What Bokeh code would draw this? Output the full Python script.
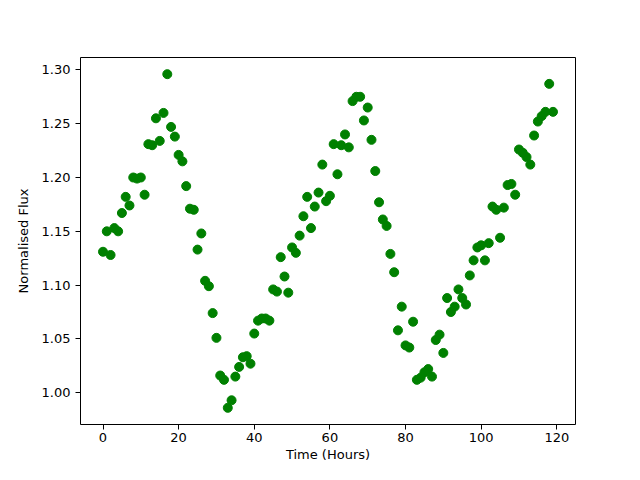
from bokeh.plotting import figure
from bokeh.models import FixedTicker, NumeralTickFormatter, Range1d, ColumnDataSource
from bokeh.embed import file_html
from bokeh.resources import INLINE

time_hours = list(range(120))
flux = [
    1.131, 1.150, 1.128, 1.153, 1.150, 1.167, 1.182, 1.174, 1.200, 1.199,
    1.200, 1.184, 1.231, 1.230, 1.255, 1.234, 1.260, 1.296, 1.247, 1.238,
    1.221, 1.215, 1.192, 1.171, 1.170, 1.133, 1.148, 1.104, 1.099, 1.074,
    1.051, 1.016, 1.012, 0.986, 0.993, 1.015, 1.024, 1.033, 1.034, 1.027,
    1.055, 1.067, 1.069, 1.069, 1.067, 1.096, 1.094, 1.126, 1.108, 1.093,
    1.135, 1.130, 1.146, 1.164, 1.182, 1.153, 1.173, 1.186, 1.212, 1.178,
    1.183, 1.231, 1.203, 1.230, 1.240, 1.228, 1.271, 1.275, 1.275, 1.253,
    1.265, 1.235, 1.206, 1.177, 1.161, 1.155, 1.129, 1.112, 1.058, 1.080,
    1.044, 1.042, 1.066, 1.012, 1.014, 1.019, 1.022, 1.015, 1.049, 1.054,
    1.037, 1.088, 1.075, 1.080, 1.096, 1.088, 1.082, 1.109, 1.123, 1.135,
    1.137, 1.123, 1.139, 1.173, 1.170, 1.144, 1.172, 1.193, 1.194, 1.184,
    1.226, 1.223, 1.219, 1.212, 1.239, 1.252, 1.257, 1.261, 1.287, 1.261,
]
x_ticks = [0, 20, 40, 60, 80, 100, 120]
y_ticks = [1.00, 1.05, 1.10, 1.15, 1.20, 1.25, 1.30]

src = ColumnDataSource(dict(t=time_hours, f=flux))

p = figure(width=624, height=464, output_backend="svg", toolbar_location=None,
           x_range=Range1d(-5.95, 124.95), y_range=Range1d(0.9705, 1.3115),
           min_border_left=80, min_border_right=49, min_border_top=57, min_border_bottom=37)
p.scatter("t", "f", source=src, size=9, color="#008000", line_color="#008000")

p.xgrid.visible = False
p.ygrid.visible = False
p.outline_line_color = "black"
p.outline_line_width = 1

for ax in (p.xaxis[0], p.yaxis[0]):
    ax.axis_line_color = None
    ax.major_tick_out = 5
    ax.major_tick_in = 0
    ax.minor_tick_line_color = None
    ax.major_tick_line_color = "black"
    ax.major_label_text_font = "DejaVu Sans"
    ax.major_label_text_font_size = "13px"
    ax.major_label_text_color = "black"
    ax.axis_label_text_font = "DejaVu Sans"
    ax.axis_label_text_font_size = "13px"
    ax.axis_label_text_font_style = "normal"
    ax.axis_label_text_color = "black"

p.xaxis[0].ticker = FixedTicker(ticks=x_ticks)
p.yaxis[0].ticker = FixedTicker(ticks=y_ticks)
p.yaxis[0].formatter = NumeralTickFormatter(format="0.00")
p.xaxis[0].axis_label = "Time (Hours)"
p.yaxis[0].axis_label = "Normalised Flux"
p.xaxis[0].major_label_standoff = 3
p.xaxis[0].axis_label_standoff = 2
p.yaxis[0].axis_label_standoff = 8

open("out.html", "w").write(file_html(p, INLINE))
